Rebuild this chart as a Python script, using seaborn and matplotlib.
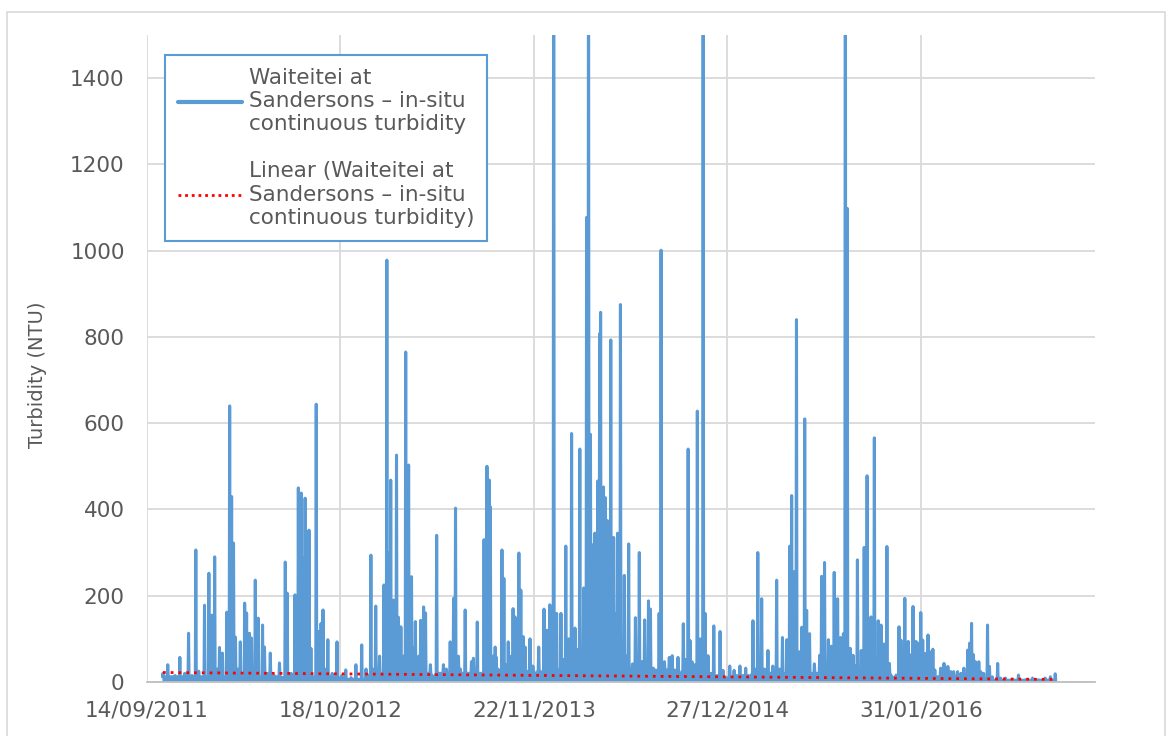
import matplotlib
matplotlib.use("Agg")
import matplotlib.pyplot as plt
from matplotlib.lines import Line2D
from matplotlib.patches import Rectangle
import seaborn as sns
import pandas as pd

# dias desde 14/09/2011 y turbidez (NTU)
start = pd.Timestamp("2011-09-14")
day_offset = [
    33, 43, 58, 68, 78, 86, 93, 101, 107, 119, 128, 134, 140, 146, 150, 156, 165, 171, 175, 179,
    183, 187, 193, 202, 206, 212, 216, 224, 230, 239, 243, 249, 255, 263, 274, 280, 286, 290, 298, 306,
    313, 319, 323, 327, 335, 339, 350, 354, 360, 364, 368, 374, 383, 393,
    403, 411, 422, 432, 444, 453, 463, 467, 473, 481, 490, 496, 500, 504, 510, 516, 520, 525, 531, 535,
    541, 547, 551, 555, 562, 566, 572, 576, 582, 586, 592, 599, 603, 613, 619, 627, 634, 638, 644, 648,
    658, 664, 671, 675, 683, 689, 697, 703, 708, 710, 716, 720, 722, 726, 734, 738, 743, 747, 753, 757, 761,
    769, 773, 778, 782, 788, 792, 798, 804, 810, 815, 821, 827, 833, 837, 841, 845, 847, 856, 862, 866,
    872, 878, 885, 889, 895, 899, 903, 909, 913, 917, 924, 926, 932, 936, 938, 944, 948, 952, 959, 965,
    969, 973, 979, 983, 987, 991, 996, 1004, 1010, 1014, 1018, 1024, 1029, 1037, 1041, 1047, 1053, 1059, 1063, 1070,
    1080, 1086, 1090, 1098, 1103, 1109, 1113, 1119, 1123, 1127, 1133, 1138, 1144, 1150, 1154, 1160, 1166, 1172, 1179, 1185,
    1191, 1199, 1205, 1214, 1220, 1226, 1232, 1238, 1244, 1253, 1257, 1263, 1271, 1277, 1284, 1294, 1302, 1308, 1314, 1323,
    1329, 1333, 1339, 1343, 1349, 1354, 1360, 1364, 1370, 1380, 1391, 1395, 1401, 1409, 1415, 1421, 1428, 1434, 1440, 1444,
    1448, 1454, 1460, 1465, 1469, 1477, 1483, 1489, 1493, 1497, 1504, 1512, 1518, 1524, 1530, 1535, 1543, 1549, 1555, 1559,
    1563, 1567, 1574, 1578, 1584, 1590, 1594, 1600, 1604, 1609, 1615, 1619, 1625, 1629, 1635, 1641, 1648, 1656, 1662, 1668,
    1676, 1683, 1689, 1697, 1701, 1705, 1709, 1713, 1720, 1724, 1730, 1738, 1742, 1748, 1759, 1765, 1775, 1790, 1802, 1816,
    1831, 1843, 1857, 1868, 1878,
]
turbidity = [
    20, 40, 15, 57, 20, 113, 15, 306, 25, 178, 252, 155, 290, 30, 80, 67, 162, 640, 430, 322,
    104, 30, 93, 183, 160, 113, 102, 236, 148, 132, 81, 20, 67, 15, 44, 10, 278, 206, 20, 202,
    450, 438, 288, 426, 352, 78, 644, 117, 136, 167, 30, 98, 20, 93,
    15, 28, 10, 40, 86, 30, 294, 30, 176, 60, 225, 978, 300, 468, 190, 526, 150, 128, 60, 765,
    503, 244, 80, 140, 60, 143, 174, 160, 20, 40, 10, 340, 20, 40, 30, 93, 194, 403, 60, 30,
    167, 20, 47, 55, 139, 20, 330, 500, 468, 406, 60, 81, 58, 30, 306, 240, 40, 93, 60, 170, 151,
    299, 213, 105, 81, 20, 100, 37, 15, 81, 20, 169, 120, 179, 40, 2400, 60, 159, 159, 52, 315,
    100, 576, 125, 76, 540, 60, 218, 1077, 2000, 574, 320, 345, 466, 808, 857, 452, 427, 374, 793, 335,
    159, 345, 875, 47, 247, 60, 320, 42, 149, 40, 300, 47, 144, 188, 169, 32, 27, 159, 1001, 47,
    57, 61, 27, 57, 15, 135, 52, 540, 96, 47, 40, 628, 100, 2000, 159, 61, 20, 130, 15, 117,
    27, 10, 37, 27, 15, 37, 15, 32, 15, 142, 30, 300, 193, 30, 73, 37, 236, 30, 103, 98,
    315, 432, 256, 840, 70, 127, 610, 166, 112, 42, 62, 245, 277, 98, 83, 254, 193, 103, 112, 2200,
    1098, 78, 62, 37, 283, 73, 312, 478, 83, 151, 566, 142, 132, 88, 314, 43, 9, 16, 128, 97,
    63, 194, 94, 63, 175, 94, 90, 161, 97, 66, 109, 70, 76, 28, 12, 32, 43, 36, 24, 24,
    24, 20, 32, 74, 90, 136, 63, 47, 47, 24, 20, 132, 36, 12, 43, 9, 9, 6, 16, 5,
    9, 5, 9, 12, 19,
]
# nivel de base entre crecidas, por periodo (dia de inicio, NTU)
base_start = [0, 400, 460, 770, 1130, 1250, 1540, 1700]
base_ntu = [12, 6, 20, 28, 8, 20, 12, 4]

# linea de tendencia (inicio, fin)
trend_days = [33, 1878]
trend_ntu = [22, 6]

tick_labels = ["14/09/2011", "18/10/2012", "22/11/2013", "27/12/2014", "31/01/2016"]
series_label = "Waiteitei at\nSandersons \u2013 in-situ\ncontinuous turbidity"
trend_label = "Linear (Waiteitei at\nSandersons \u2013 in-situ\ncontinuous turbidity)"

# cada lectura queda entre dos valles al nivel de base del periodo
rows = []
for d, v in zip(day_offset, turbidity):
    b = [bv for bs, bv in zip(base_start, base_ntu) if bs <= d][-1]
    b = min(b, v)
    rows += [(d - 1, b), (d, v), (d + 1, b)]
df = pd.DataFrame(rows, columns=["dia", "ntu"])
df["fecha"] = start + pd.to_timedelta(df["dia"], unit="D")
trend = pd.DataFrame({"fecha": start + pd.to_timedelta(trend_days, unit="D"), "ntu": trend_ntu})

sns.set_theme(style="white")
plt.rcParams["font.family"] = ["DejaVu Sans"]
gris = "#595959"
azul = "#5b9bd5"

fig = plt.figure(figsize=(11.71, 7.36), dpi=100)
ax = fig.add_axes([0.1255, 0.0734, 0.8095, 0.879])
fig.patches.append(Rectangle((0.006, -0.02), 0.989, 1.004, transform=fig.transFigure,
                             fill=False, edgecolor="#d9d9d9", linewidth=1.2))

# relleno bajo la serie (los datos originales son muy densos)
ax.fill_between(df["fecha"], 0, df["ntu"], color=azul, linewidth=0)
sns.lineplot(data=df, x="fecha", y="ntu", ax=ax, color=azul, linewidth=2.2,
             estimator=None, sort=False)
sns.lineplot(data=trend, x="fecha", y="ntu", ax=ax, color="red", linewidth=2,
             linestyle=(0, (1, 1.8)), estimator=None)

tick_dates = pd.to_datetime(tick_labels, format="%d/%m/%Y")
ax.set_xticks(tick_dates)
ax.set_xticklabels(tick_labels)
ax.set_xlim(start, start + pd.Timedelta(days=1960))
ax.set_ylim(0, 1500)
ax.set_yticks(range(0, 1401, 200))

ax.grid(True, color="#d9d9d9", linewidth=1.3)
ax.set_axisbelow(True)
for side in ["top", "right", "left"]:
    ax.spines[side].set_visible(False)
ax.spines["bottom"].set_color("#bfbfbf")
ax.spines["bottom"].set_linewidth(1.3)
ax.tick_params(axis="both", length=0, labelsize=15.5, colors=gris)
ax.tick_params(axis="x", pad=13)
ax.tick_params(axis="y", pad=16)

ax.set_xlabel("")
ax.set_ylabel("")
fig.text(38 / 1171, 1 - 375 / 736, "Turbidity (NTU)", rotation=90, ha="center",
         va="center", fontsize=14, color=gris)

handles = [Line2D([], [], color=azul, linewidth=3),
           Line2D([], [], color="red", linewidth=2, linestyle=(0, (1, 1.4)))]
leg = ax.legend(handles, [series_label, trend_label], loc="upper left",
                bbox_to_anchor=(0.019, 0.969), borderaxespad=0, fontsize=15.5,
                frameon=True, fancybox=False, handlelength=3.0, handletextpad=0.3,
                labelspacing=1.25, borderpad=0.6, framealpha=1)
leg.get_frame().set_edgecolor(azul)
leg.get_frame().set_linewidth(1.5)
for t in leg.get_texts():
    t.set_color(gris)

fig.savefig("out.png", dpi=100)
